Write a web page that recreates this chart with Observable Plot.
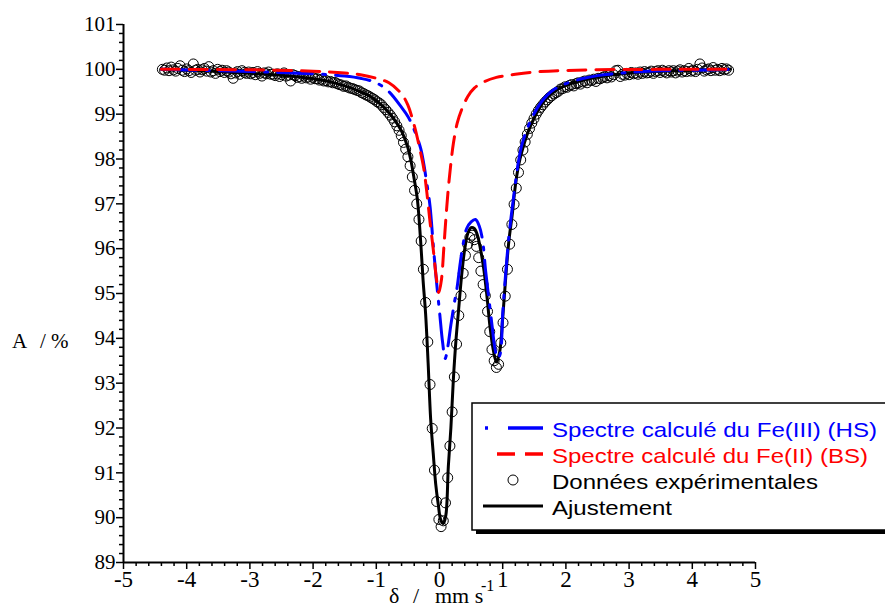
<!DOCTYPE html>
<html><head><meta charset="utf-8">
<script src="https://cdn.jsdelivr.net/npm/d3@7"></script>
<script src="https://cdn.jsdelivr.net/npm/@observablehq/plot@0.6"></script>
<style>
body{margin:0;background:#fff;overflow:hidden}
#chart{position:relative;width:885px;height:606px;overflow:hidden}
</style>
</head><body><div id="chart"></div>
<script>
// Experimental channels (velocity, mm/s)
const velocity = [
-4.385,-4.35,-4.315,-4.28,-4.245,-4.21,-4.175,-4.14,-4.105,-4.07,
-4.035,-4.0,-3.965,-3.93,-3.895,-3.86,-3.825,-3.79,-3.755,-3.72,
-3.685,-3.65,-3.615,-3.58,-3.545,-3.51,-3.475,-3.44,-3.405,-3.37,
-3.335,-3.3,-3.265,-3.23,-3.195,-3.16,-3.125,-3.09,-3.055,-3.02,
-2.985,-2.95,-2.915,-2.88,-2.845,-2.81,-2.775,-2.74,-2.705,-2.67,
-2.635,-2.6,-2.565,-2.53,-2.495,-2.46,-2.425,-2.39,-2.355,-2.32,
-2.285,-2.25,-2.215,-2.18,-2.145,-2.11,-2.075,-2.04,-2.005,-1.97,
-1.935,-1.9,-1.865,-1.83,-1.795,-1.76,-1.725,-1.69,-1.655,-1.62,
-1.585,-1.55,-1.515,-1.48,-1.445,-1.41,-1.375,-1.34,-1.305,-1.27,
-1.235,-1.2,-1.165,-1.13,-1.095,-1.06,-1.025,-0.99,-0.955,-0.92,
-0.885,-0.85,-0.815,-0.78,-0.745,-0.71,-0.675,-0.64,-0.605,-0.57,
-0.535,-0.5,-0.465,-0.43,-0.395,-0.36,-0.325,-0.29,-0.255,-0.22,
-0.185,-0.15,-0.115,-0.08,-0.045,-0.01,0.025,0.06,0.095,0.13,
0.165,0.2,0.235,0.27,0.305,0.34,0.375,0.41,0.445,0.48,
0.515,0.55,0.585,0.62,0.655,0.69,0.725,0.76,0.795,0.83,
0.865,0.9,0.935,0.97,1.005,1.04,1.075,1.11,1.145,1.18,
1.215,1.25,1.285,1.32,1.355,1.39,1.425,1.46,1.495,1.53,
1.565,1.6,1.635,1.67,1.705,1.74,1.775,1.81,1.845,1.88,
1.915,1.95,1.985,2.02,2.055,2.09,2.125,2.16,2.195,2.23,
2.265,2.3,2.335,2.37,2.405,2.44,2.475,2.51,2.545,2.58,
2.615,2.65,2.685,2.72,2.755,2.79,2.825,2.86,2.895,2.93,
2.965,3.0,3.035,3.07,3.105,3.14,3.175,3.21,3.245,3.28,
3.315,3.35,3.385,3.42,3.455,3.49,3.525,3.56,3.595,3.63,
3.665,3.7,3.735,3.77,3.805,3.84,3.875,3.91,3.945,3.98,
4.015,4.05,4.085,4.12,4.155,4.19,4.225,4.26,4.295,4.33,
4.365,4.4,4.435,4.47,4.505,4.54,4.575];
// Experimental absorption (%)
const measured = [
100.00,99.98,100.03,99.97,100.05,99.99,99.96,100.02,100.08,99.98,
99.95,100.01,99.97,99.93,100.12,99.98,100.00,99.94,99.99,100.02,
99.96,100.06,99.94,99.97,99.91,100.00,99.95,99.98,99.93,99.97,
99.94,99.90,99.80,99.92,99.95,99.89,99.97,99.93,99.91,99.94,
99.90,99.93,99.88,99.95,99.91,99.85,99.92,99.90,99.94,99.89,
99.89,99.86,99.90,99.84,99.88,99.92,99.85,99.87,99.74,99.88,
99.86,99.82,99.84,99.80,99.85,99.81,99.83,99.78,99.82,99.79,
99.79,99.76,99.78,99.74,99.75,99.72,99.73,99.70,99.71,99.68,
99.66,99.65,99.62,99.63,99.60,99.58,99.57,99.55,99.53,99.52,
99.48,99.46,99.43,99.41,99.38,99.35,99.32,99.28,99.25,99.21,
99.15,99.10,99.04,98.98,98.91,98.83,98.74,98.64,98.52,98.37,
98.22,98.05,97.85,97.60,97.30,97.00,96.65,96.17,95.54,94.80,
93.92,92.97,91.99,91.06,90.36,89.96,89.80,89.93,90.33,90.89,
91.60,92.36,93.14,93.87,94.51,94.95,95.45,95.85,96.10,96.25,
96.30,96.20,96.05,95.80,95.50,95.20,94.95,94.60,94.15,93.75,
93.50,93.35,93.42,93.90,94.35,94.94,95.54,96.10,96.54,96.99,
97.35,97.70,97.98,98.20,98.38,98.55,98.68,98.80,98.90,99.00,
99.08,99.15,99.21,99.27,99.32,99.37,99.41,99.45,99.48,99.51,
99.56,99.57,99.61,99.60,99.64,99.66,99.63,99.68,99.70,99.67,
99.72,99.74,99.70,99.76,99.75,99.78,99.73,99.80,99.79,99.82,
99.84,99.81,99.86,99.83,99.88,99.97,99.98,99.84,99.89,99.87,
99.91,99.88,99.93,99.90,99.92,99.89,99.94,99.91,99.95,99.92,
99.93,99.96,99.91,99.95,99.97,99.93,99.98,99.95,99.92,99.97,
99.94,99.97,99.92,99.96,99.99,99.94,99.97,99.95,100.02,99.96,
99.98,99.95,100.00,100.12,100.03,99.96,99.99,100.01,99.97,100.04,
99.98,100.00,99.97,100.02,99.99,100.01,99.98];

// Fit (Ajustement)
const fitV = [-4.4,-4.0,-3.5,-3.0,-2.5,-2.0,-1.75,-1.5,-1.25,-1.1,-1.0,-0.9,-0.8,-0.7,-0.6,-0.5,-0.45,-0.4,-0.35,-0.3,-0.26,-0.22,-0.18,-0.14,-0.1,-0.06,-0.02,0.02,0.06,0.1,0.14,0.18,0.22,0.26,0.3,0.35,0.4,0.45,0.5,0.55,0.6,0.65,0.7,0.75,0.8,0.85,0.9,0.95,1.0,1.05,1.1,1.15,1.2,1.25,1.3,1.4,1.5,1.6,1.7,1.8,2.0,2.25,2.5,3.0,3.5,4.0,4.6];
const fitA = [100.00,99.98,99.95,99.91,99.87,99.79,99.73,99.63,99.50,99.40,99.30,99.18,99.03,98.85,98.62,98.25,97.95,97.55,97.10,96.20,95.30,94.55,93.45,92.20,91.45,90.75,90.30,89.95,89.87,90.05,91.15,92.00,93.10,93.95,94.60,95.40,96.00,96.35,96.47,96.45,96.30,95.98,95.55,94.95,94.25,93.75,93.47,93.68,94.45,95.40,96.20,96.75,97.40,97.85,98.15,98.60,98.92,99.18,99.36,99.49,99.64,99.75,99.83,99.92,99.96,99.98,100.00];

// Fe(III) HS calculated spectrum
const hsV = [-4.4,-3.0,-2.0,-1.5,-1.25,-1.0,-0.8,-0.6,-0.5,-0.4,-0.3,-0.25,-0.2,-0.15,-0.1,-0.05,0.0,0.05,0.09,0.13,0.18,0.23,0.28,0.33,0.38,0.43,0.5,0.57,0.63,0.68,0.73,0.78,0.83,0.88,0.92,0.96,1.0,1.05,1.1,1.15,1.2,1.25,1.3,1.4,1.5,1.6,1.7,1.8,2.0,2.25,2.5,3.0,3.5,4.0,4.6];
const hsA = [100.00,99.95,99.90,99.85,99.80,99.70,99.50,99.15,98.95,98.65,98.25,97.90,97.45,96.95,96.10,95.30,94.60,93.90,93.55,93.80,94.30,94.75,95.15,95.70,96.15,96.45,96.60,96.65,96.50,96.20,95.50,94.90,94.30,93.75,93.55,93.65,94.55,95.50,96.30,96.90,97.45,97.95,98.30,98.72,99.02,99.25,99.42,99.54,99.68,99.79,99.86,99.93,99.97,99.98,100.00];

// Fe(II) BS calculated spectrum
const bsV = [-4.4,-3.0,-2.0,-1.5,-1.25,-1.0,-0.8,-0.6,-0.5,-0.4,-0.3,-0.25,-0.2,-0.15,-0.1,-0.05,-0.01,0.03,0.07,0.1,0.14,0.18,0.22,0.28,0.35,0.45,0.55,0.7,0.9,1.2,1.6,2.5,4.6];
const bsA = [100.00,99.99,99.96,99.92,99.88,99.80,99.70,99.45,99.20,98.75,98.15,97.80,97.25,96.60,96.00,95.35,95.02,95.30,96.05,96.65,97.35,97.90,98.35,98.80,99.10,99.40,99.58,99.72,99.82,99.89,99.95,99.99,100.00];

const xTicks = [-5,-4,-3,-2,-1,0,1,2,3,4,5];
const yTicks = [89,90,91,92,93,94,95,96,97,98,99,100,101];
const xMinor = d3.range(-50, 51, 2).filter(d => d % 10 !== 0).map(d => d / 10);
const yMinor = d3.range(445, 506, 1).filter(d => d % 5 !== 0).map(d => d / 5);

const legendLabels = ["Spectre calculé du Fe(III) (HS)", "Spectre calculé du Fe(II) (BS)", "Données expérimentales", "Ajustement"];
const legendColors = ["#0000ff", "#ff0000", "#000000", "#000000"];

const expData = velocity.map((v, i) => ({v, a: measured[i]}));
const fitData = fitV.map((v, i) => ({v, a: fitA[i]}));
const hsData = hsV.map((v, i) => ({v, a: hsA[i]}));
const bsData = bsV.map((v, i) => ({v, a: bsA[i]}));

const serif = "'Liberation Serif','Times New Roman',serif";
const sans = "'Liberation Sans',Arial,sans-serif";

const plot = Plot.plot({
  width: 885, height: 606,
  marginLeft: 123, marginRight: 130, marginTop: 24, marginBottom: 44,
  x: {domain: [-5, 5]},
  y: {domain: [89, 101]},
  style: {fontFamily: serif, background: "white", color: "black", overflow: "visible"},
  marks: [
    Plot.axisY(yMinor, {tickSize: 4, text: null, label: null, strokeWidth: 1.5}),
    Plot.axisY(yTicks, {tickSize: 7, tickPadding: 1, fontSize: 21, label: null, strokeWidth: 1.5, tickFormat: d => String(d)}),
    Plot.axisX(xMinor, {tickSize: 4, text: null, label: null, strokeWidth: 1.5}),
    Plot.axisX(xTicks, {tickSize: 7, tickPadding: 1, fontSize: 23, label: null, strokeWidth: 1.5, tickFormat: d => String(d)}),
    Plot.ruleX([-5], {strokeWidth: 2}),
    Plot.ruleY([89], {strokeWidth: 2}),
    Plot.dot(expData, {x: "v", y: "a", r: 5, stroke: "black", strokeWidth: 1, fill: "none"}),
    Plot.line(fitData, {x: "v", y: "a", stroke: "black", strokeWidth: 3, curve: "catmull-rom"}),
    Plot.line(hsData, {x: "v", y: "a", stroke: "#0000ff", strokeWidth: 3, strokeDasharray: "35,10,3,10", curve: "catmull-rom"}),
    Plot.line(bsData, {x: "v", y: "a", stroke: "#ff0000", strokeWidth: 3, strokeDasharray: "18,10", curve: "catmull-rom"})
  ]
});

const svg = d3.select(plot);
// Axis titles
const yt = svg.append("text").attr("y", 348).attr("font-family", serif).attr("font-size", 21).attr("fill", "black").attr("text-anchor", "start");
yt.append("tspan").attr("x", 12).text("A");
yt.append("tspan").attr("x", 40).text("/");
yt.append("tspan").attr("x", 51).text("%");
const xt = svg.append("text").attr("y", 603).attr("font-family", serif).attr("font-size", 22).attr("fill", "black").attr("text-anchor", "start");
xt.append("tspan").attr("x", 389).text("δ");
xt.append("tspan").attr("x", 413).text("/");
xt.append("tspan").attr("x", 435).text("mm s");
svg.append("text").attr("x", 481).attr("y", 591).attr("font-family", serif).attr("font-size", 16).attr("fill", "black").attr("text-anchor", "start").text("-1");

// Legend box (drawn over the plot)
const lg = svg.append("g");
lg.append("rect").attr("x", 476).attr("y", 407).attr("width", 440).attr("height", 127).attr("fill", "black");
lg.append("rect").attr("x", 472).attr("y", 403).attr("width", 440).attr("height", 127).attr("fill", "white").attr("stroke", "black").attr("stroke-width", 1.5);
const rowY = [437, 463, 489, 515];
const textLen = [325, 316, 266, 120];
legendLabels.forEach((label, i) => {
  const sy = rowY[i] - 9;
  if (i === 0) {
    lg.append("line").attr("x1", 485).attr("x2", 543).attr("y1", sy).attr("y2", sy)
      .attr("stroke", legendColors[i]).attr("stroke-width", 3.5).attr("stroke-dasharray", "3,20,35");
  } else if (i === 1) {
    lg.append("line").attr("x1", 497).attr("x2", 543).attr("y1", sy).attr("y2", sy)
      .attr("stroke", legendColors[i]).attr("stroke-width", 3.5).attr("stroke-dasharray", "18,10");
  } else if (i === 2) {
    lg.append("circle").attr("cx", 513).attr("cy", sy).attr("r", 5).attr("fill", "none").attr("stroke", "black").attr("stroke-width", 1);
  } else {
    lg.append("line").attr("x1", 483).attr("x2", 543).attr("y1", sy).attr("y2", sy)
      .attr("stroke", legendColors[i]).attr("stroke-width", 3);
  }
  lg.append("text").attr("x", 552).attr("y", rowY[i]).attr("font-family", sans).attr("font-size", 21)
    .attr("text-anchor", "start")
    .attr("fill", legendColors[i]).attr("textLength", textLen[i]).attr("lengthAdjust", "spacingAndGlyphs").text(label);
});

document.getElementById("chart").appendChild(plot);
</script>
</body></html>
